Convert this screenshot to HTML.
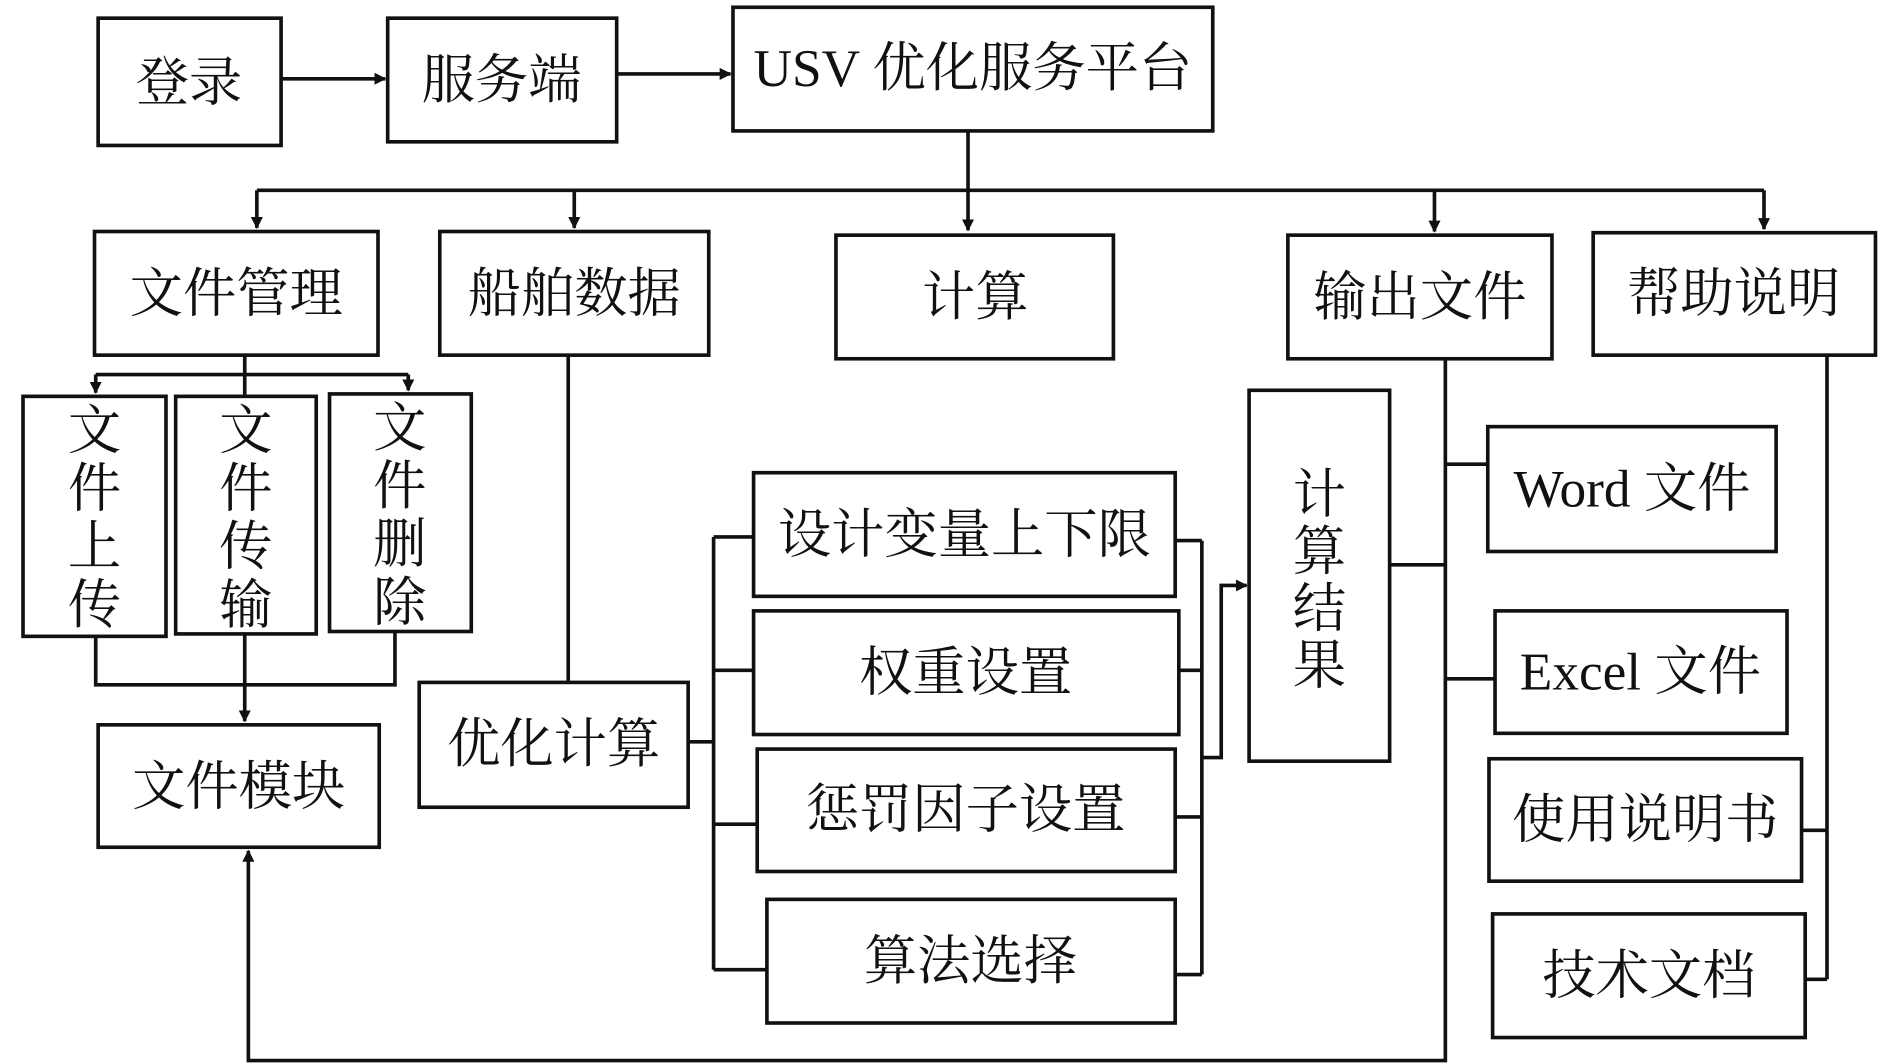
<!DOCTYPE html>
<html><head><meta charset="utf-8"><style>
html,body{margin:0;padding:0;background:#fff;}
svg{display:block;}
text{font-family:"Liberation Serif","Noto Serif CJK SC",serif;font-size:44px;fill:#111;text-anchor:middle;dominant-baseline:central;}
</style></head><body>
<svg width="1890" height="1063" viewBox="0 0 1560 877" preserveAspectRatio="none" xmlns="http://www.w3.org/2000/svg">
<defs><marker id="a" markerWidth="10" markerHeight="10" refX="9" refY="5" orient="auto" markerUnits="userSpaceOnUse"><path d="M0,0 L10,5 L0,10 z" fill="#111"/></marker></defs>
<g fill="none" stroke="#111" stroke-width="3">
<rect x="81" y="15" width="151" height="105"/>
<rect x="320" y="15" width="189" height="102"/>
<rect x="605" y="6" width="396" height="102"/>
<rect x="78" y="191" width="234" height="102"/>
<rect x="363" y="191" width="222" height="102"/>
<rect x="690" y="194" width="229" height="102"/>
<rect x="1063" y="194" width="218" height="102"/>
<rect x="1315" y="192" width="233" height="101"/>
<rect x="19" y="327" width="118" height="198"/>
<rect x="145" y="327" width="116" height="196"/>
<rect x="272" y="325" width="117" height="196"/>
<rect x="81" y="598" width="232" height="101"/>
<rect x="346" y="563" width="222" height="103"/>
<rect x="622" y="390" width="348" height="102"/>
<rect x="622" y="504" width="351" height="102"/>
<rect x="625" y="618" width="345" height="101"/>
<rect x="633" y="742" width="337" height="102"/>
<rect x="1031" y="322" width="116" height="306"/>
<rect x="1228" y="352" width="238" height="103"/>
<rect x="1234" y="504" width="241" height="101"/>
<rect x="1229" y="626" width="258" height="101"/>
<rect x="1232" y="754" width="258" height="102"/>
<path d="M232,65 H318" marker-end="url(#a)"/>
<path d="M509,61 H603" marker-end="url(#a)"/>
<path d="M799,108 V190" marker-end="url(#a)"/>
<path d="M212,157 H1456"/>
<path d="M212,157 V188" marker-end="url(#a)"/>
<path d="M474,157 V188" marker-end="url(#a)"/>
<path d="M1184,157 V191" marker-end="url(#a)"/>
<path d="M1456,157 V189" marker-end="url(#a)"/>
<path d="M202,293 V327"/>
<path d="M79,309 H337"/>
<path d="M79,309 V324" marker-end="url(#a)"/>
<path d="M337,309 V322" marker-end="url(#a)"/>
<path d="M79,525 V565 H326 V521"/>
<path d="M202,523 V595" marker-end="url(#a)"/>
<path d="M469,293 V563"/>
<path d="M568,612 H589"/>
<path d="M589,443 V800"/>
<path d="M589,443 H622 M589,553 H622 M589,680 H625 M589,800 H633"/>
<path d="M970,446 H992 M973,553 H992 M970,674 H992 M970,804 H992"/>
<path d="M992,446 V804"/>
<path d="M992,625 H1008 V483 H1029" marker-end="url(#a)"/>
<path d="M1147,466 H1193"/>
<path d="M1193,296 V875 H205 V702" marker-end="url(#a)"/>
<path d="M1193,383 H1228 M1193,560 H1234"/>
<path d="M1508,293 V808 M1487,685 H1508 M1490,808 H1508"/>
</g>
<text x="156" y="68">登录</text>
<text x="414" y="66">服务端</text>
<text x="803" y="56">USV 优化服务平台</text>
<text x="195" y="242">文件管理</text>
<text x="474" y="242">船舶数据</text>
<text x="805" y="245">计算</text>
<text x="1172" y="245">输出文件</text>
<text x="1431" y="242">帮助说明</text>
<text x="78" y="355">文</text><text x="78" y="403">件</text><text x="78" y="451">上</text><text x="78" y="499">传</text>
<text x="203" y="355">文</text><text x="203" y="403">件</text><text x="203" y="451">传</text><text x="203" y="499">输</text>
<text x="330" y="353">文</text><text x="330" y="401">件</text><text x="330" y="449">删</text><text x="330" y="497">除</text>
<text x="197" y="649">文件模块</text>
<text x="457" y="614">优化计算</text>
<text x="796" y="441">设计变量上下限</text>
<text x="797" y="555">权重设置</text>
<text x="797" y="668">惩罚因子设置</text>
<text x="801" y="793">算法选择</text>
<text x="1089" y="408">计</text><text x="1089" y="455">算</text><text x="1089" y="502">结</text><text x="1089" y="549">果</text>
<text x="1347" y="403">Word 文件</text>
<text x="1354" y="554">Excel 文件</text>
<text x="1358" y="676">使用说明书</text>
<text x="1361" y="805">技术文档</text>
</svg>
</body></html>
